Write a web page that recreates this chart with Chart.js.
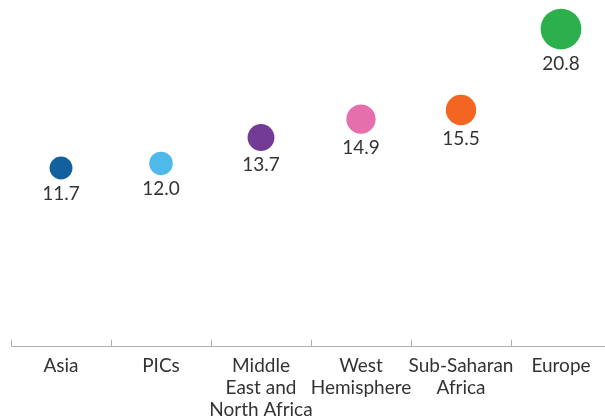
<!DOCTYPE html>
<html>
<head>
<meta charset="utf-8">
<script src="https://cdn.jsdelivr.net/npm/chart.js@4/dist/chart.umd.min.js"></script>
<style>
  html, body { margin: 0; padding: 0; background: #fff; overflow: hidden; }
  #wrap { width: 620px; height: 419px; }
</style>
</head>
<body>
<div id="wrap"><canvas id="regionChart"></canvas></div>
<script>
const regions = [
  'Asia',
  'PICs',
  ['Middle', 'East and', 'North Africa'],
  ['West', 'Hemisphere'],
  ['Sub-Saharan', 'Africa'],
  'Europe'
];
const values = [11.7, 12.0, 13.7, 14.9, 15.5, 20.8];
const dotColors = ['#12609e', '#4fb9e9', '#733b96', '#e56fac', '#f36621', '#2cb04b'];

const textColor = '#333333';
const axisColor = '#b0b0b0';

// value under each dot
const valueLabels = {
  id: 'valueLabels',
  afterDatasetsDraw(chart) {
    const ctx = chart.ctx;
    const meta = chart.getDatasetMeta(0);
    ctx.save();
    ctx.font = '19px Lato';
    ctx.fillStyle = textColor;
    ctx.textAlign = 'center';
    ctx.textBaseline = 'middle';
    meta.data.forEach((pt, i) => {
      const r = pt.options.radius;
      ctx.fillText(values[i].toFixed(1), pt.x, pt.y + r + 14);
    });
    ctx.restore();
  }
};

new Chart(document.getElementById('regionChart'), {
  type: 'line',
  data: {
    labels: regions,
    datasets: [{
      data: values,
      showLine: false,
      clip: false,
      backgroundColor: dotColors,
      borderColor: dotColors,
      borderWidth: 0,
      pointRadius: ctx => ctx.raw * 0.98,
      pointHoverRadius: ctx => ctx.raw * 0.98
    }]
  },
  options: {
    responsive: true,
    maintainAspectRatio: false,
    animation: false,
    layout: { autoPadding: false, padding: { left: 11, right: 9, top: 10.7, bottom: 0 } },
    plugins: {
      legend: { display: false },
      tooltip: { enabled: false }
    },
    scales: {
      x: {
        offset: true,
        grid: {
          offset: true,
          drawOnChartArea: false,
          color: axisColor,
          lineWidth: 1,
          tickLength: -7
        },
        border: { display: true, color: axisColor, width: 1 },
        ticks: {
          color: textColor,
          font: { family: 'Lato', size: 19, lineHeight: 22 / 19 },
          padding: 15,
          maxRotation: 0,
          autoSkip: false
        },
        afterFit: scale => { scale.height = 72.3; }
      },
      y: {
        display: false,
        min: 0,
        max: 22
      }
    }
  },
  plugins: [valueLabels]
});
</script>
</body>
</html>
